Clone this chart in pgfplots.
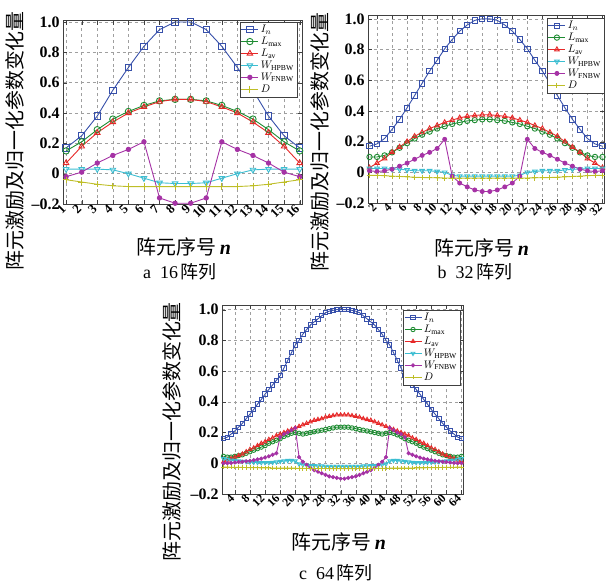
\documentclass[border=0pt]{standalone}
\usepackage{pgfplots}
\usepackage{pgfplotstable}
\pgfplotsset{compat=1.18}
\usepackage{fontspec}
\setmainfont{Liberation Serif}
\newfontfamily\cjk{Noto Sans CJK SC}
\definecolor{cI}{RGB}{55,80,170}
\definecolor{cLm}{RGB}{30,140,50}
\definecolor{cLa}{RGB}{230,40,40}
\definecolor{cWh}{RGB}{60,190,210}
\definecolor{cWf}{RGB}{165,50,165}
\definecolor{cD}{RGB}{190,190,40}

\pgfplotstableread{
n In Lmax Lav Whp Wfn D
1 0.17 0.15 0.07 0.03 -0.02 -0.04
2 0.25 0.21 0.18 0.03 0.01 -0.055
3 0.38 0.29 0.27 0.03 0.07 -0.07
4 0.55 0.36 0.34 0.025 0.12 -0.08
5 0.70 0.41 0.40 0.0 0.16 -0.085
6 0.84 0.45 0.44 -0.03 0.21 -0.085
7 0.95 0.48 0.475 -0.06 -0.16 -0.085
8 1.00 0.49 0.49 -0.065 -0.195 -0.085
9 1.00 0.49 0.49 -0.065 -0.195 -0.085
10 0.95 0.48 0.475 -0.06 -0.16 -0.085
11 0.84 0.45 0.44 -0.03 0.21 -0.085
12 0.70 0.41 0.40 0.0 0.16 -0.085
13 0.55 0.36 0.34 0.025 0.12 -0.08
14 0.38 0.29 0.27 0.03 0.07 -0.07
15 0.25 0.21 0.18 0.03 0.01 -0.055
16 0.17 0.15 0.07 0.03 -0.02 -0.04
}\tabA

\pgfplotstableread{
n In Lmax Lav Whp Wfn D
1 0.17 0.10 0.03 0.025 0.01 -0.02
2 0.185 0.10 0.06 0.025 0.005 -0.02
3 0.22 0.11 0.09 0.025 0.01 -0.022
4 0.28 0.13 0.13 0.02 0.02 -0.025
5 0.345 0.16 0.165 0.02 0.04 -0.027
6 0.42 0.19 0.20 0.015 0.06 -0.03
7 0.50 0.22 0.235 0.01 0.085 -0.032
8 0.58 0.245 0.26 0.01 0.11 -0.034
9 0.66 0.265 0.285 0.01 0.13 -0.035
10 0.73 0.285 0.305 0.005 0.155 -0.036
11 0.805 0.30 0.325 0.0 0.215 -0.037
12 0.865 0.315 0.34 -0.02 -0.025 -0.038
13 0.92 0.325 0.355 -0.025 -0.07 -0.038
14 0.96 0.335 0.365 -0.025 -0.095 -0.038
15 0.99 0.34 0.37 -0.025 -0.115 -0.038
16 1.00 0.345 0.375 -0.025 -0.125 -0.038
17 1.00 0.345 0.375 -0.025 -0.125 -0.038
18 0.99 0.34 0.37 -0.025 -0.115 -0.038
19 0.96 0.335 0.365 -0.025 -0.095 -0.038
20 0.92 0.325 0.355 -0.025 -0.07 -0.038
21 0.865 0.315 0.34 -0.02 -0.025 -0.038
22 0.805 0.30 0.325 0.0 0.215 -0.037
23 0.73 0.285 0.305 0.005 0.155 -0.036
24 0.66 0.265 0.285 0.01 0.13 -0.035
25 0.58 0.245 0.26 0.01 0.11 -0.034
26 0.50 0.22 0.235 0.01 0.085 -0.032
27 0.42 0.19 0.20 0.015 0.06 -0.03
28 0.345 0.16 0.165 0.02 0.04 -0.027
29 0.28 0.13 0.13 0.02 0.02 -0.025
30 0.22 0.11 0.09 0.025 0.01 -0.022
31 0.185 0.10 0.06 0.025 0.005 -0.02
32 0.17 0.10 0.03 0.025 0.01 -0.02
}\tabB

\pgfplotstableread{
n In Lmax Lav Whp Wfn D
1 0.16 0.045 0.01 0.03 0.0 -0.025
2 0.17 0.04 0.02 0.025 0.0 -0.025
3 0.19 0.04 0.03 0.02 0.002 -0.026
4 0.21 0.045 0.04 0.018 0.005 -0.026
5 0.235 0.05 0.05 0.015 0.008 -0.027
6 0.26 0.055 0.06 0.012 0.01 -0.027
7 0.29 0.065 0.075 0.01 0.013 -0.028
8 0.32 0.075 0.09 0.008 0.016 -0.028
9 0.35 0.085 0.10 0.006 0.02 -0.029
10 0.385 0.095 0.115 0.005 0.025 -0.029
11 0.415 0.105 0.13 0.004 0.03 -0.03
12 0.45 0.115 0.14 0.004 0.037 -0.03
13 0.48 0.13 0.155 0.004 0.045 -0.03
14 0.51 0.14 0.165 0.005 0.055 -0.031
15 0.54 0.15 0.18 0.008 0.065 -0.031
16 0.57 0.16 0.19 0.012 0.17 -0.031
17 0.62 0.175 0.20 0.015 0.19 -0.032
18 0.67 0.185 0.21 0.018 0.20 -0.032
19 0.72 0.195 0.22 0.018 0.215 -0.032
20 0.77 0.20 0.23 0.015 0.23 -0.032
21 0.80 0.195 0.24 -0.005 0.04 -0.033
22 0.84 0.19 0.25 -0.01 0.01 -0.033
23 0.87 0.195 0.26 -0.012 -0.01 -0.033
24 0.90 0.20 0.27 -0.015 -0.03 -0.033
25 0.92 0.205 0.28 -0.015 -0.045 -0.034
26 0.94 0.21 0.285 -0.018 -0.055 -0.034
27 0.96 0.215 0.29 -0.018 -0.065 -0.034
28 0.98 0.22 0.30 -0.02 -0.075 -0.034
29 0.99 0.225 0.305 -0.02 -0.085 -0.035
30 0.995 0.23 0.31 -0.02 -0.09 -0.035
31 1.0 0.235 0.315 -0.02 -0.095 -0.035
32 1.0 0.235 0.315 -0.02 -0.1 -0.035
33 1.0 0.235 0.315 -0.02 -0.1 -0.035
34 1.0 0.235 0.315 -0.02 -0.095 -0.035
35 0.995 0.23 0.31 -0.02 -0.09 -0.035
36 0.99 0.225 0.305 -0.02 -0.085 -0.035
37 0.98 0.22 0.30 -0.02 -0.075 -0.034
38 0.96 0.215 0.29 -0.018 -0.065 -0.034
39 0.94 0.21 0.285 -0.018 -0.055 -0.034
40 0.92 0.205 0.28 -0.015 -0.045 -0.034
41 0.90 0.20 0.27 -0.015 -0.03 -0.033
42 0.87 0.195 0.26 -0.012 -0.01 -0.033
43 0.84 0.19 0.25 -0.01 0.01 -0.033
44 0.80 0.195 0.24 -0.005 0.04 -0.033
45 0.77 0.20 0.23 0.015 0.23 -0.032
46 0.72 0.195 0.22 0.018 0.215 -0.032
47 0.67 0.185 0.21 0.018 0.20 -0.032
48 0.62 0.175 0.20 0.015 0.19 -0.032
49 0.57 0.16 0.19 0.012 0.17 -0.031
50 0.54 0.15 0.18 0.008 0.065 -0.031
51 0.51 0.14 0.165 0.005 0.055 -0.031
52 0.48 0.13 0.155 0.004 0.045 -0.03
53 0.45 0.115 0.14 0.004 0.037 -0.03
54 0.415 0.105 0.13 0.004 0.03 -0.03
55 0.385 0.095 0.115 0.005 0.025 -0.029
56 0.35 0.085 0.10 0.006 0.02 -0.029
57 0.32 0.075 0.09 0.008 0.016 -0.028
58 0.29 0.065 0.075 0.01 0.013 -0.028
59 0.26 0.055 0.06 0.012 0.01 -0.027
60 0.235 0.05 0.05 0.015 0.008 -0.027
61 0.21 0.045 0.04 0.018 0.005 -0.026
62 0.19 0.04 0.03 0.02 0.002 -0.026
63 0.17 0.04 0.02 0.025 0.0 -0.025
64 0.16 0.045 0.01 0.03 0.0 -0.025
}\tabC

\pgfplotsset{
  base/.style={
    scale only axis,
    ymin=-0.2,
    ytick={-0.2,0,0.2,0.4,0.6,0.8,1.0},
    yticklabels={–0.2,0,0.2,0.4,0.6,0.8,1.0},
    grid=major,
    major grid style={dashed, gray!75, line width=0.4pt},
    axis line style={gray!50!black, line width=0.6pt},
    tick style={gray!50!black},
    /pgf/number format/assume math mode=true,
    y tick label style={font=\bfseries\fontsize{16}{16}\selectfont},
    x tick label style={font=\bfseries\fontsize{12}{12}\selectfont, rotate=45, anchor=east},
    xlabel={{\cjk 阵元序号}\,\textbf{\textit{n}}},
    ylabel={\cjk 阵元激励及归一化参数变化量},
    label style={font=\fontsize{20}{20}\selectfont},
    legend style={font=\fontsize{11}{11}\selectfont, draw=gray!50!black, fill=white, inner sep=1pt, row sep=-1pt, cells={anchor=west}},
    legend cell align=left,
    every axis plot/.append style={line width=0.9pt},
  },
  sI/.style={color=cI, mark=square},
  sLm/.style={color=cLm, mark=o},
  sLa/.style={color=cLa, mark=triangle},
  sWh/.style={color=cWh, mark=triangle, mark options={rotate=180}},
  sWf/.style={color=cWf, mark=*},
  sD/.style={color=cD, mark=+},
}

\begin{document}
\begin{tikzpicture}
\useasboundingbox (0bp,0bp) rectangle (612bp,585bp);

% ---- a: 16 elements
\begin{axis}[base, at={(63bp,381bp)}, anchor=south west, width=239bp, height=183.5bp,
  xmin=0.8, xmax=16.15, ymax=1.01, xtick={1,...,16},
  x tick label style={font=\bfseries\fontsize{13}{13}\selectfont},
  ylabel style={at={(axis description cs:-0.2,0.345)}, anchor=center},
  xlabel style={at={(axis description cs:0.506,-0.236)}, anchor=center},
  legend style={at={(rel axis cs:0.979,0.992)}, anchor=north east},
  mark size=3.2]
\addplot[sI] table[x=n,y=In]{\tabA};
\addplot[sLm] table[x=n,y=Lmax]{\tabA};
\addplot[sLa] table[x=n,y=Lav]{\tabA};
\addplot[sWh] table[x=n,y=Whp]{\tabA};
\addplot[sWf, mark size=2.2] table[x=n,y=Wfn]{\tabA};
\addplot[sD] table[x=n,y=D]{\tabA};
\legend{$I_n$,$L_{\max}$,$L_{\mathrm{av}}$,$W_{\mathrm{HPBW}}$,$W_{\mathrm{FNBW}}$,$D$}
\end{axis}

% ---- b: 32 elements
\begin{axis}[base, at={(368bp,382bp)}, anchor=south west, width=236bp, height=188bp,
  xmin=0.8, xmax=32.2, ymax=1.025, xtick={2,4,...,32},
  ylabel style={at={(axis description cs:-0.203,0.326)}, anchor=center},
  xlabel style={at={(axis description cs:0.483,-0.24)}, anchor=center},
  legend style={at={(rel axis cs:1,0.984)}, anchor=north east},
  mark size=2.7]
\addplot[sI] table[x=n,y=In]{\tabB};
\addplot[sLm] table[x=n,y=Lmax]{\tabB};
\addplot[sLa] table[x=n,y=Lav]{\tabB};
\addplot[sWh] table[x=n,y=Whp]{\tabB};
\addplot[sWf, mark size=2] table[x=n,y=Wfn]{\tabB};
\addplot[sD] table[x=n,y=D]{\tabB};
\legend{$I_n$,$L_{\max}$,$L_{\mathrm{av}}$,$W_{\mathrm{HPBW}}$,$W_{\mathrm{FNBW}}$,$D$}
\end{axis}

% ---- c: 64 elements
\begin{axis}[base, at={(222bp,91bp)}, anchor=south west, width=241bp, height=189bp,
  xmin=0.6, xmax=64.4, ymax=1.03, xtick={4,8,...,64},
  ylabel style={at={(axis description cs:-0.207,0.33)}, anchor=center},
  xlabel style={at={(axis description cs:0.485,-0.254)}, anchor=center},
  legend style={at={(rel axis cs:0.988,0.974)}, anchor=north east},
  mark size=2.2]
\addplot[sI] table[x=n,y=In]{\tabC};
\addplot[sLm] table[x=n,y=Lmax]{\tabC};
\addplot[sLa] table[x=n,y=Lav]{\tabC};
\addplot[sWh] table[x=n,y=Whp]{\tabC};
\addplot[sWf, mark size=1.6] table[x=n,y=Wfn]{\tabC};
\addplot[sD] table[x=n,y=D]{\tabC};
\legend{$I_n$,$L_{\max}$,$L_{\mathrm{av}}$,$W_{\mathrm{HPBW}}$,$W_{\mathrm{FNBW}}$,$D$}
\end{axis}

\node[font=\fontsize{18}{18}\selectfont] at (180bp,313bp) {a\enspace 16\,{\cjk 阵列}};
\node[font=\fontsize{18}{18}\selectfont] at (475bp,313bp) {b\enspace 32\,{\cjk 阵列}};
\node[font=\fontsize{18}{18}\selectfont] at (336bp,12bp) {c\enspace 64\,{\cjk 阵列}};
\end{tikzpicture}
\end{document}
